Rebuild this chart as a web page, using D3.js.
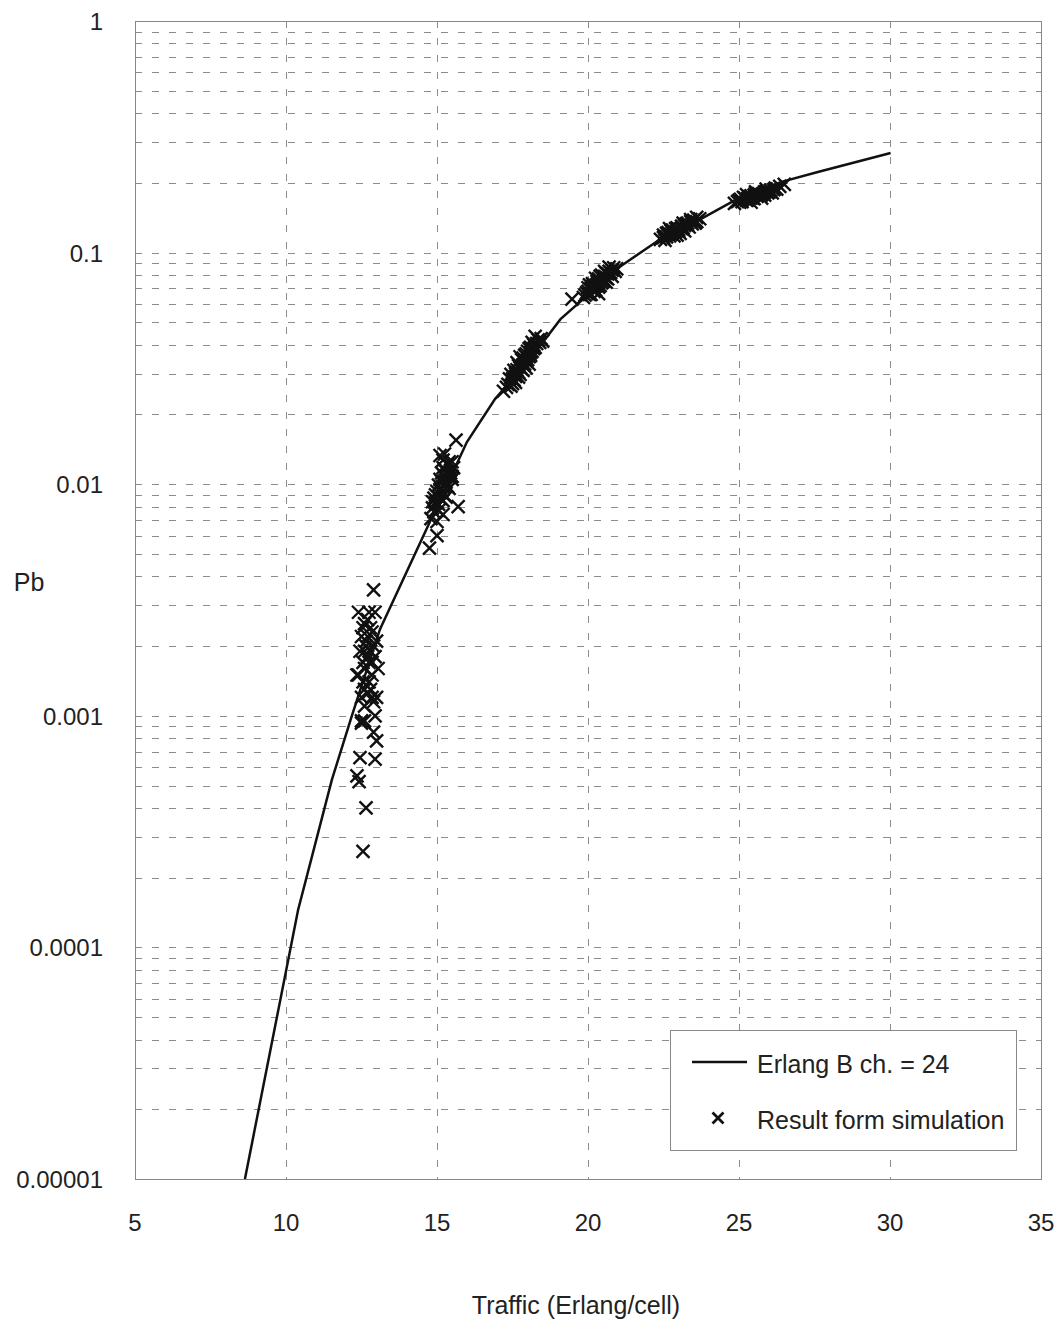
<!DOCTYPE html>
<html>
<head>
<meta charset="utf-8">
<title>Erlang B</title>
<script src="https://cdn.jsdelivr.net/npm/d3@7"></script>
<style>
  body { margin: 0; background: #fff; }
  text { font-family: "Liberation Sans", Arial, sans-serif; fill: #222; }
</style>
</head>
<body>
<div id="container"></div>
<script>
// Erlang B curve (24 channels)
var curveA  = [8.64, 10.4, 11.52, 12.18, 13.11, 15.99, 16.92, 18.08, 19.09, 21.08, 22.4, 23.73, 25.05, 26.38, 27.61, 30.02];
var curvePb = [1e-5, 1.45e-4, 5.3e-4, 1e-3, 2.36e-3, 0.0152, 0.0233, 0.0347, 0.0516, 0.0874, 0.1144, 0.1396, 0.1737, 0.2016, 0.2228, 0.269];

// simulation results, one list per traffic group
var sim1 = [[12.9,0.0035],[12.4,0.0028],[12.95,0.0028],[12.6,0.0025],[12.8,0.0024],[12.7,0.0026],[12.5,0.0022],[13.0,0.0021],
  [12.65,0.0020],[12.8,0.0019],[12.35,0.0015],[12.95,0.0018],[12.55,0.0017],[12.4,0.0015],[12.75,0.0014],[13.05,0.0016],
  [12.5,0.0012],[12.85,0.0012],[12.6,0.0013],[12.9,0.00115],[12.5,0.00093],[12.6,0.00095],[12.95,0.001],[12.9,0.00085],
  [13.0,0.00078],[12.45,0.00066],[12.95,0.00065],[12.35,0.00055],[12.42,0.00052],[12.65,0.0004],[12.55,0.00026],
  [12.7,0.0022],[12.6,0.0019],[12.75,0.0017],[12.85,0.0015],
  [12.55,0.0024],[12.85,0.0023],[12.65,0.0021],[12.9,0.002],[12.45,0.0019],[12.7,0.0018],[12.6,0.0016],[12.85,0.0017],
  [12.55,0.0014],[12.7,0.00125],[12.8,0.0013],[12.6,0.0011],[12.5,0.00095],[13.0,0.0012],[12.75,0.0028]];
var sim2 = [[15.63,0.0155],[15.1,0.0133],[15.2,0.0127],[15.35,0.0122],[15.45,0.0115],[15.25,0.0108],[15.5,0.0105],[15.05,0.0099],
  [15.4,0.0096],[15.15,0.0092],[14.9,0.0087],[15.3,0.0088],[14.85,0.0079],[15.05,0.0082],[15.7,0.008],[15.2,0.0074],
  [14.8,0.0071],[15.0,0.0069],[15.0,0.006],[14.75,0.0053],[15.45,0.0112],[15.3,0.0102],[15.1,0.0095],[14.95,0.0083],
  [15.25,0.009],[15.35,0.0098],[15.55,0.0118],[15.15,0.0103],[14.9,0.0076],[15.5,0.0125],
  [15.2,0.0118],[15.3,0.0113],[15.4,0.0108],[15.1,0.0105],[15.2,0.0098],[15.0,0.0093],[15.1,0.0087],[14.95,0.009],
  [15.2,0.0085],[15.4,0.0125],[15.5,0.0108],[15.25,0.0135],[14.85,0.0084],[15.05,0.0077],[15.15,0.0112]];
var sim3 = [[17.2,0.0252],[17.35,0.027],[17.5,0.0285],[17.45,0.0298],[17.6,0.0292],[17.55,0.031],[17.7,0.0305],[17.75,0.032],
  [17.65,0.0335],[17.85,0.0328],[17.8,0.0345],[17.95,0.034],[17.9,0.036],[18.05,0.0355],[18.0,0.0375],[18.1,0.039],
  [18.2,0.0385],[18.15,0.041],[18.3,0.0405],[18.45,0.0425],[18.25,0.0435],[18.5,0.0415],[17.6,0.0275],[17.4,0.0285],
  [17.7,0.029],[17.85,0.031],[17.95,0.0318],[18.05,0.033],[17.75,0.0355],[18.1,0.037],
  [17.3,0.0262],[17.5,0.0272],[17.6,0.03],[17.8,0.0315],[17.7,0.0325],[17.9,0.033],[17.85,0.035],[18.0,0.0345],
  [18.1,0.036],[17.95,0.0365],[18.2,0.04],[18.35,0.042],[18.25,0.039],[18.05,0.0385],[17.65,0.0312],[17.55,0.0282],
  [18.4,0.041],[17.45,0.0265],[18.15,0.0375],[17.75,0.0298]];
var sim4 = [[19.47,0.063],[19.85,0.064],[19.95,0.067],[20.05,0.066],[20.1,0.07],[20.2,0.068],[20.25,0.072],[20.35,0.071],
  [20.3,0.075],[20.45,0.074],[20.5,0.077],[20.4,0.079],[20.6,0.078],[20.65,0.081],[20.55,0.083],[20.75,0.082],
  [20.85,0.086],[20.95,0.085],[20.7,0.0865],[20.15,0.0735],[20.0,0.0705],[20.6,0.0745],[20.35,0.0665],[20.8,0.079],[20.25,0.0775],
  [20.0,0.068],[20.1,0.066],[20.2,0.071],[20.3,0.073],[20.4,0.072],[20.5,0.075],[20.45,0.08],[20.55,0.079],
  [20.65,0.077],[20.7,0.083],[20.8,0.084],[20.9,0.083],[20.25,0.069],[20.15,0.0715],[20.35,0.077],[20.6,0.0815],
  [19.9,0.0655],[20.05,0.0725]];
var sim5 = [[22.4,0.114],[22.5,0.119],[22.6,0.117],[22.65,0.122],[22.75,0.12],[22.8,0.125],[22.9,0.123],[22.95,0.128],
  [23.0,0.126],[23.1,0.13],[23.15,0.128],[23.25,0.133],[23.3,0.131],[23.4,0.136],[23.5,0.138],[23.6,0.142],[23.7,0.14],
  [22.85,0.118],[23.05,0.121],[23.2,0.124],[22.7,0.127],[23.35,0.129],[23.55,0.134],[22.55,0.113],
  [22.6,0.121],[22.7,0.118],[22.8,0.122],[22.9,0.127],[23.0,0.124],[23.1,0.127],[23.2,0.131],[23.3,0.134],
  [23.45,0.133],[23.4,0.139],[22.5,0.116],[23.15,0.134],[22.95,0.119],[23.6,0.136],[22.75,0.124]];
var sim6 = [[24.85,0.163],[25.0,0.168],[25.1,0.166],[25.2,0.171],[25.3,0.169],[25.35,0.174],[25.45,0.172],[25.5,0.177],
  [25.6,0.175],[25.65,0.18],[25.75,0.178],[25.85,0.183],[25.95,0.181],[26.05,0.186],[26.2,0.19],[26.35,0.193],[26.5,0.197],
  [25.25,0.178],[25.55,0.183],[25.9,0.188],[25.4,0.165],[25.75,0.172],[26.1,0.181],
  [25.05,0.17],[25.15,0.173],[25.25,0.168],[25.4,0.176],[25.5,0.171],[25.6,0.179],[25.7,0.176],[25.8,0.18],
  [25.9,0.184],[26.0,0.183],[26.15,0.187],[25.3,0.172],[25.55,0.18],[25.85,0.177],[26.25,0.188],[24.95,0.166]];

var xTicks = [5, 10, 15, 20, 25, 30, 35];
var yTicks = [1, 0.1, 0.01, 0.001, 0.0001, 0.00001];
var yTickLabels = ["1", "0.1", "0.01", "0.001", "0.0001", "0.00001"];
var legendLabels = ["Erlang B ch. = 24", "Result form simulation"];

function main() {
  var width = 1061, height = 1319;
  var left = 135, right = 1041, top = 21, bottom = 1179;

  var svg = d3.select("#container").append("svg")
    .attr("width", width)
    .attr("height", height);

  var x = d3.scaleLinear().domain([5, 35]).range([left, right]);
  var y = d3.scaleLog().domain([1e-5, 1]).range([bottom, top]);

  // minor + major horizontal grid (1..9 per decade)
  var hLines = [];
  for (var e = -5; e < 0; e++) {
    for (var m = 1; m <= 9; m++) hLines.push(m * Math.pow(10, e));
  }

  svg.append("g").selectAll("line")
    .data(hLines.filter(function(d) { return d > 1e-5 && d < 1; }))
    .enter().append("line")
    .attr("x1", left).attr("x2", right)
    .attr("y1", function(d) { return Math.round(y(d)) + 0.5; })
    .attr("y2", function(d) { return Math.round(y(d)) + 0.5; })
    .attr("stroke", "#8c8c8c")
    .attr("stroke-width", 1)
    .attr("stroke-dasharray", "7,10");

  svg.append("g").selectAll("line")
    .data(xTicks.slice(1, -1))
    .enter().append("line")
    .attr("x1", function(d) { return Math.round(x(d)) + 0.5; })
    .attr("x2", function(d) { return Math.round(x(d)) + 0.5; })
    .attr("y1", top).attr("y2", bottom)
    .attr("stroke", "#8c8c8c")
    .attr("stroke-width", 1)
    .attr("stroke-dasharray", "7,10");

  // frame
  svg.append("rect")
    .attr("x", left + 0.5).attr("y", top + 0.5)
    .attr("width", right - left).attr("height", bottom - top)
    .attr("fill", "none")
    .attr("stroke", "#888")
    .attr("stroke-width", 1);

  // tick labels
  svg.append("g").selectAll("text")
    .data(xTicks)
    .enter().append("text")
    .attr("x", function(d) { return x(d); })
    .attr("y", 1231)
    .attr("text-anchor", "middle")
    .attr("font-size", 24)
    .text(function(d) { return d; });

  svg.append("g").selectAll("text")
    .data(yTicks)
    .enter().append("text")
    .attr("x", 103)
    .attr("y", function(d) { return y(d) + 9; })
    .attr("text-anchor", "end")
    .attr("font-size", 24)
    .text(function(d, i) { return yTickLabels[i]; });

  svg.append("text")
    .attr("x", 576).attr("y", 1314)
    .attr("text-anchor", "middle")
    .attr("font-size", 25)
    .text("Traffic (Erlang/cell)");

  svg.append("text")
    .attr("x", 29).attr("y", 591)
    .attr("text-anchor", "middle")
    .attr("font-size", 25)
    .text("Pb");

  // markers
  var sim = sim1.concat(sim2, sim3, sim4, sim5, sim6);
  var s = 6.5;
  function cross(cx, cy, r) {
    return "M" + (cx - r) + "," + (cy - r) + "L" + (cx + r) + "," + (cy + r) +
           "M" + (cx - r) + "," + (cy + r) + "L" + (cx + r) + "," + (cy - r);
  }
  svg.append("g").selectAll("path")
    .data(sim)
    .enter().append("path")
    .attr("d", function(d) { return cross(x(d[0]), y(d[1]), s); })
    .attr("stroke", "#111")
    .attr("stroke-width", 2.4)
    .attr("fill", "none");

  // Erlang B line
  var line = d3.line()
    .x(function(d) { return x(d); })
    .y(function(d, i) { return y(curvePb[i]); });
  svg.append("path")
    .attr("d", line(curveA))
    .attr("fill", "none")
    .attr("stroke", "#111")
    .attr("stroke-width", 2.5);

  // legend
  var lg = svg.append("g");
  lg.append("rect")
    .attr("x", 670.5).attr("y", 1030.5)
    .attr("width", 346).attr("height", 120)
    .attr("fill", "#fff")
    .attr("stroke", "#888");
  lg.append("line")
    .attr("x1", 692).attr("x2", 747)
    .attr("y1", 1062).attr("y2", 1062)
    .attr("stroke", "#111").attr("stroke-width", 2.5);
  lg.append("path")
    .attr("d", cross(718, 1118, 5.5))
    .attr("stroke", "#111").attr("stroke-width", 2.8).attr("fill", "none");
  lg.selectAll("text")
    .data(legendLabels)
    .enter().append("text")
    .attr("x", 757)
    .attr("y", function(d, i) { return 1073 + i * 56; })
    .attr("font-size", 25)
    .text(function(d) { return d; });
}

window.onload = main;
</script>
</body>
</html>
